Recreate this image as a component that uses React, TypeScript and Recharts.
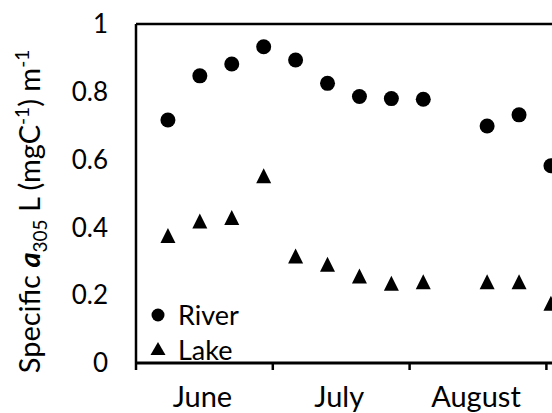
import { Legend, ReferenceLine, Scatter, ScatterChart, XAxis, YAxis } from 'recharts';

// sampling day, counted from 1 June
const sampleDays = [7, 14, 21, 28, 35, 42, 49, 56, 63, 77, 84, 91];
const riverValues = [0.717, 0.847, 0.882, 0.933, 0.894, 0.825, 0.786, 0.78, 0.778, 0.699, 0.732, 0.582];
const lakeValues = [0.376, 0.419, 0.429, 0.552, 0.316, 0.291, 0.257, 0.235, 0.24, 0.24, 0.24, 0.176];

const yTicks = [0, 0.2, 0.4, 0.6, 0.8, 1];
const yTickLabels = ['0', '0.2', '0.4', '0.6', '0.8', '1'];
// month boundaries get a tick mark, month centres get the name
const xTicks = [0, 15, 30, 45, 60, 75, 90];
const monthLabels: Record<number, string> = { 15: 'June', 45: 'July', 75: 'August' };

const riverData = sampleDays.map((day, i) => ({ day, value: riverValues[i] }));
const lakeData = sampleDays.map((day, i) => ({ day, value: lakeValues[i] }));

const FONT = 'Lato, sans-serif';
const INK = '#000';

function Dot(props: any) {
  const { cx, cy } = props;
  return <circle cx={cx} cy={cy} r={7.5} fill={INK} />;
}

function Triangle(props: any) {
  const { cx, cy } = props;
  const h = 15;
  const w = 15;
  return (
    <polygon
      points={`${cx},${cy - h / 2} ${cx - w / 2},${cy + h / 2} ${cx + w / 2},${cy + h / 2}`}
      fill={INK}
    />
  );
}

function MonthTick(props: any) {
  const { x, y, payload } = props;
  const label = monthLabels[payload.value];
  if (!label) {
    return <line x1={x} x2={x} y1={y} y2={y + 7} stroke={INK} strokeWidth={2.5} />;
  }
  return (
    <text x={x - 2} y={y + 44} textAnchor="middle" fontFamily={FONT} fontSize={29} fill={INK}>
      {label}
    </text>
  );
}

function YTitle(props: any) {
  const vb = props.viewBox || {};
  const cy = (vb.y ?? 24) + (vb.height ?? 339) / 2 + 18;
  const cx = 40;
  return (
    <text
      x={cx}
      y={cy}
      transform={`rotate(-90 ${cx} ${cy})`}
      textAnchor="middle"
      fontFamily={FONT}
      fontSize={29}
      fill={INK}
    >
      <tspan>Specific </tspan>
      <tspan fontWeight="bold" fontStyle="italic">a</tspan>
      <tspan fontSize={19} dy={7}>305</tspan>
      <tspan dy={-7}> L (mgC</tspan>
      <tspan fontSize={19} dy={-11}>-1</tspan>
      <tspan dy={11}>) m</tspan>
      <tspan fontSize={19} dy={-11}>-1</tspan>
    </text>
  );
}

function LegendBox() {
  const rows = [
    { name: 'River', icon: <circle cx={8} cy={15} r={6.5} fill={INK} /> },
    { name: 'Lake', icon: <polygon points="8,7 0.5,20 15.5,20" fill={INK} /> },
  ];
  return (
    <div>
      {rows.map((r) => (
        <div key={r.name} style={{ display: 'flex', alignItems: 'center', height: 35 }}>
          <svg width={24} height={30}>{r.icon}</svg>
          <span style={{ fontFamily: FONT, fontSize: 27, color: INK, marginLeft: 4 }}>{r.name}</span>
        </div>
      ))}
    </div>
  );
}

export default function App() {
  return (
    <div
      style={{
        position: 'absolute',
        left: 0,
        top: 0,
        width: 552,
        height: 413,
        overflow: 'hidden',
        background: '#fff',
      }}
    >
      <ScatterChart width={592} height={413} margin={{ top: 24, right: 0, left: 0, bottom: 0 }}>
        <XAxis
          type="number"
          dataKey="day"
          domain={[0, 100]}
          ticks={xTicks}
          interval={0}
          height={50}
          tick={<MonthTick />}
          tickLine={false}
          tickSize={0}
          tickMargin={0}
          axisLine={{ stroke: INK, strokeWidth: 3 }}
        />
        <YAxis
          type="number"
          dataKey="value"
          domain={[0, 1]}
          ticks={yTicks}
          interval={0}
          width={136}
          tickLine={false}
          tickSize={0}
          tickMargin={28}
          tickFormatter={(_v: number, i: number) => yTickLabels[i]}
          tick={{ fill: INK, fontSize: 26, fontFamily: FONT }}
          axisLine={{ stroke: INK, strokeWidth: 2.5 }}
          label={{ content: <YTitle /> }}
        />
        <ReferenceLine y={1} stroke={INK} strokeWidth={2.5} />
        <Scatter name="River" data={riverData} shape={<Dot />} isAnimationActive={false} />
        <Scatter name="Lake" data={lakeData} shape={<Triangle />} isAnimationActive={false} />
        <Legend
          layout="horizontal"
          verticalAlign="middle"
          align="center"
          content={<LegendBox />}
          wrapperStyle={{ left: 150, top: 297, width: 'auto' }}
        />
      </ScatterChart>
    </div>
  );
}
